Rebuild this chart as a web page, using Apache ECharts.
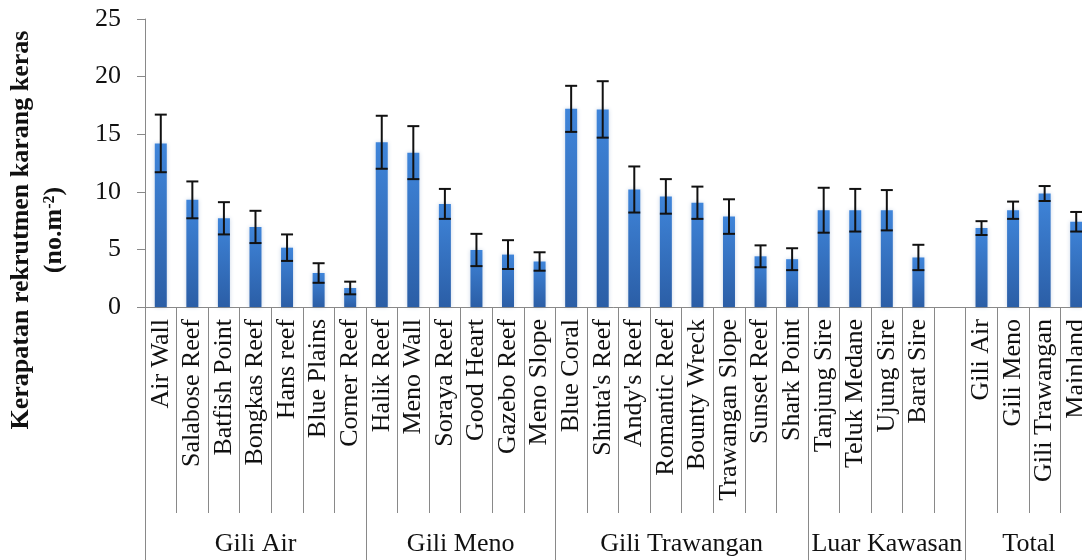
<!DOCTYPE html>
<html>
<head>
<meta charset="utf-8">
<script src="https://cdn.jsdelivr.net/npm/echarts@6/dist/echarts.min.js"></script>
<style>
  html, body { margin: 0; padding: 0; background: #fff; }
  #chart { width: 1082px; height: 560px; }
</style>
</head>
<body>
<div id="chart"></div>
<script>
// Survey sites along the category axis (one empty slot separates Luar Kawasan from Total)
const sites = [
  'Air Wall', 'Salabose Reef', 'Batfish Point', 'Bongkas Reef', 'Hans reef', 'Blue Plains', 'Corner Reef',
  'Halik Reef', 'Meno Wall', 'Soraya Reef', 'Good Heart', 'Gazebo Reef', 'Meno Slope',
  'Blue Coral', "Shinta's Reef", "Andy's Reef", 'Romantic Reef', 'Bounty Wreck', 'Trawangan Slope', 'Sunset Reef', 'Shark Point',
  'Tanjung Sire', 'Teluk Medane', 'Ujung Sire', 'Barat Sire', '',
  'Gili Air', 'Gili Meno', 'Gili Trawangan', 'Mainland'
];

// Mean recruit density (no.m-2) per site
const density = [
  14.2, 9.3, 7.7, 6.95, 5.15, 2.95, 1.65,
  14.3, 13.4, 8.95, 4.95, 4.55, 3.95,
  17.2, 17.15, 10.2, 9.6, 9.05, 7.85, 4.4, 4.15,
  8.4, 8.4, 8.4, 4.3, null,
  6.85, 8.4, 9.85, 7.4
];

// Standard error per site
const stdErr = [
  2.5, 1.6, 1.4, 1.4, 1.15, 0.85, 0.55,
  2.3, 2.3, 1.3, 1.4, 1.25, 0.8,
  2.0, 2.45, 2.0, 1.5, 1.4, 1.5, 0.95, 0.95,
  1.95, 1.85, 1.75, 1.1, null,
  0.6, 0.75, 0.65, 0.85
];

// Location groups and how many category slots each one spans
const groupNames = ['Gili Air', 'Gili Meno', 'Gili Trawangan', 'Luar Kawasan', 'Total'];
const groupSizes = [7, 6, 8, 5, 4];

// Y axis ticks
const yTicks = [0, 5, 10, 15, 20, 25];

// Group boundaries and centres in category units
const groupEdges = [0];
const groupCentres = [];
groupSizes.forEach(function (n, k) {
  const start = groupEdges[k];
  groupEdges.push(start + n);
  groupCentres.push(start + n / 2);
});

const serif = "'Liberation Serif', 'Times New Roman', serif";
const axisGrey = '#898989';
const textColor = '#111';

const errData = [];
density.forEach(function (v, i) {
  if (v != null && stdErr[i] != null) errData.push([i, v, stdErr[i]]);
});

const chart = echarts.init(document.getElementById('chart'), null, { renderer: 'canvas' });

chart.setOption({
  animation: false,
  backgroundColor: '#fff',
  // plot area runs a little past the right edge of the page, so the last column is cut off
  grid: { left: 145, top: 19, width: 947, height: 288, containLabel: false, outerBoundsMode: 'none' },
  xAxis: [
    {
      type: 'category',
      data: sites,
      boundaryGap: true,
      axisLine: { show: true, lineStyle: { color: axisGrey, width: 1 } },
      axisTick: { show: true, interval: 0, length: 206, lineStyle: { color: axisGrey, width: 1 } },
      axisLabel: {
        interval: 0,
        rotate: 90,
        margin: 12,
        hideOverlap: false,
        fontFamily: serif,
        fontSize: 26,
        color: textColor
      },
      splitLine: { show: false }
    },
    {
      type: 'value',
      position: 'bottom',
      min: 0,
      max: sites.length,
      axisLine: { show: false },
      axisTick: {
        show: true,
        customValues: groupEdges,
        length: 253,
        lineStyle: { color: axisGrey, width: 1 }
      },
      axisLabel: {
        customValues: groupCentres,
        margin: 224,
        fontFamily: serif,
        fontSize: 26,
        color: textColor,
        formatter: function (val) {
          const k = groupCentres.indexOf(val);
          return k >= 0 ? groupNames[k] : '';
        }
      },
      splitLine: { show: false }
    }
  ],
  yAxis: {
    type: 'value',
    min: yTicks[0],
    max: yTicks[yTicks.length - 1],
    interval: yTicks[1] - yTicks[0],
    axisLine: { show: true, lineStyle: { color: axisGrey, width: 1 } },
    axisTick: { show: true, length: 8, lineStyle: { color: axisGrey, width: 1 } },
    axisLabel: { margin: 24, fontFamily: serif, fontSize: 26, color: textColor },
    splitLine: { show: false }
  },
  graphic: [
    {
      type: 'text',
      x: 38,
      y: 230,
      rotation: Math.PI / 2,
      style: {
        text: '{t|Kerapatan rekrutmen karang keras}\n{t|(no.m}{s|-2}{t|)}',
        align: 'center',
        verticalAlign: 'middle',
        fill: textColor,
        rich: {
          t: { fontFamily: serif, fontSize: 26, fontWeight: 'bold', lineHeight: 33, fill: textColor },
          s: { fontFamily: serif, fontSize: 16, fontWeight: 'bold', lineHeight: 33, verticalAlign: 'top', fill: textColor, padding: [4, 0, 0, 0] }
        }
      }
    }
  ],
  series: [
    {
      type: 'bar',
      xAxisIndex: 0,
      data: density,
      barWidth: '38%',
      itemStyle: {
        color: new echarts.graphic.LinearGradient(0, 0, 0, 1, [
          { offset: 0, color: '#3f85da' },
          { offset: 1, color: '#2b5ea6' }
        ]),
        shadowBlur: 4,
        shadowColor: 'rgba(40, 90, 160, 0.25)'
      },
      z: 2
    },
    {
      type: 'custom',
      xAxisIndex: 0,
      data: errData,
      encode: { x: 0, y: 1 },
      clip: false,
      z: 3,
      renderItem: function (params, api) {
        const i = api.value(0);
        const m = api.value(1);
        const e = api.value(2);
        const hi = api.coord([i, m + e]);
        const lo = api.coord([i, m - e]);
        const half = 6;
        const st = { stroke: '#111', lineWidth: 2 };
        return {
          type: 'group',
          children: [
            { type: 'line', shape: { x1: hi[0], y1: hi[1], x2: lo[0], y2: lo[1] }, style: st },
            { type: 'line', shape: { x1: hi[0] - half, y1: hi[1], x2: hi[0] + half, y2: hi[1] }, style: st },
            { type: 'line', shape: { x1: lo[0] - half, y1: lo[1], x2: lo[0] + half, y2: lo[1] }, style: st }
          ]
        };
      }
    }
  ]
});
</script>
</body>
</html>
